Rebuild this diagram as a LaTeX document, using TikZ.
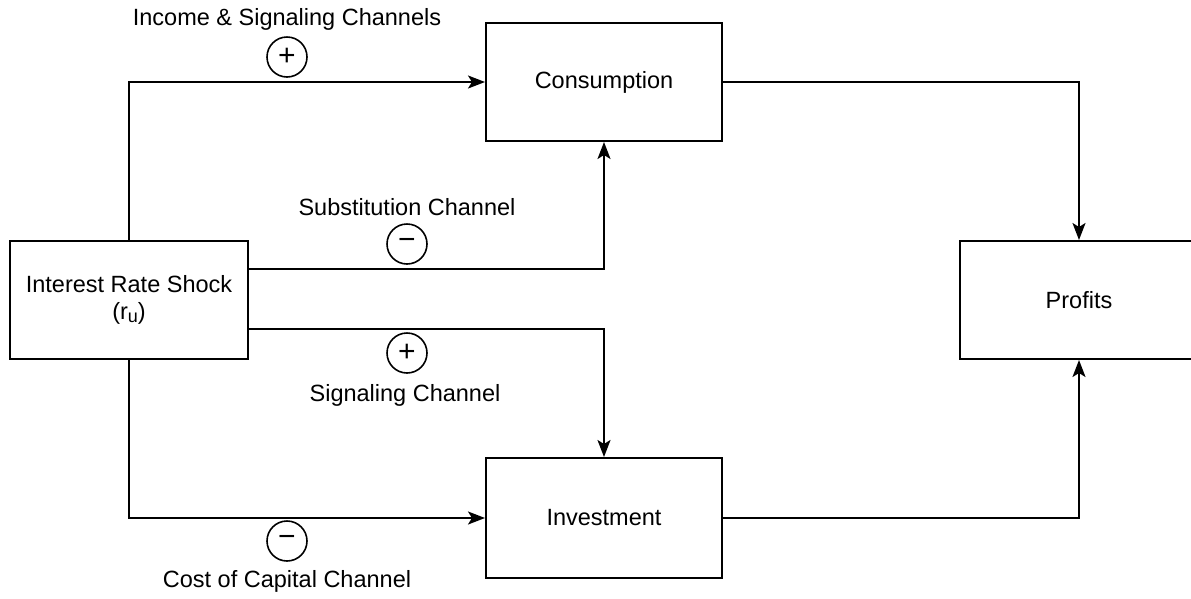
\documentclass[tikz,border=0pt]{standalone}
\usepackage{fontspec}
\setmainfont{Liberation Sans}
\usetikzlibrary{arrows.meta}
\begin{document}
\begin{tikzpicture}[x=1pt,y=-1pt,
  box/.style={draw,line width=2pt,inner sep=0pt,minimum width=#1,minimum height=118pt,align=center,font=\fontsize{23.5}{29}\selectfont},
  sign/.style={draw,circle,line width=1.6pt,minimum size=40pt,inner sep=0pt,font=\fontsize{30}{30}\selectfont},
  lbl/.style={font=\fontsize{23.5}{29}\selectfont,inner sep=0pt},
  conn/.style={line width=2pt,-{Stealth[length=17pt,width=13pt,inset=4pt]}}]
\clip (0,0) rectangle (1191,598);
\fill[white] (0,0) rectangle (1191,598);
\node[box=238pt] (shock) at (129,300) {Interest Rate Shock\\[-2pt](r\raisebox{-0.25ex}{\fontsize{18}{18}\selectfont u})};
\node[box=236pt] (cons) at (604,82) {Consumption};
\node[box=236pt,minimum height=120pt] (inv) at (604,518) {Investment};
\node[box=238pt] (prof) at (1079,300) {Profits};
\draw[conn] (shock.north) |- (cons.west);
\draw[conn] ([yshift=31pt]shock.east) -| (cons.south);
\draw[conn] ([yshift=-29pt]shock.east) -| (inv.north);
\draw[conn] (shock.south) |- (inv.west);
\draw[conn] (cons.east) -| (prof.north);
\draw[conn] (inv.east) -| (prof.south);
\node[sign] (s1) at (287,57) {+};
\node[lbl] (l1) at (287,19) {Income \& Signaling Channels};
\node[sign] (s2) at (407,244) {−};
\node[lbl] (l2) at (407,207) {Substitution Channel};
\node[sign] (s3) at (407,353) {+};
\node[lbl] (l3) at (405,395) {Signaling Channel};
\node[sign] (s4) at (287,541) {−};
\node[lbl] (l4) at (287,581) {Cost of Capital Channel};
\end{tikzpicture}
\end{document}
